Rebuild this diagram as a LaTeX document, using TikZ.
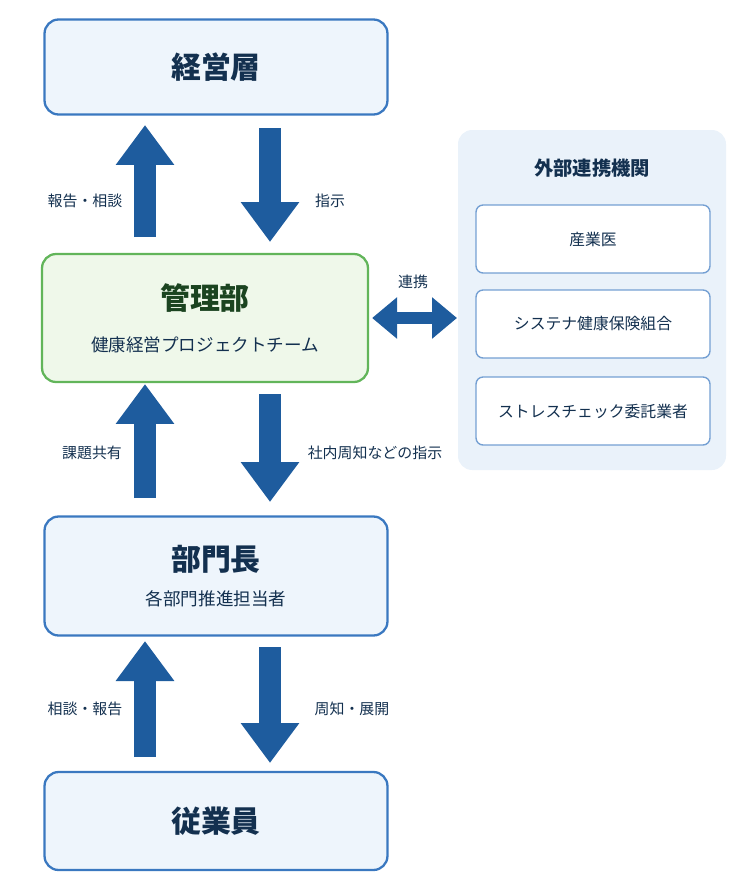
\documentclass[tikz,border=0pt]{standalone}
\usepackage{fontspec}
\setmainfont{Noto Sans CJK JP}
\usetikzlibrary{arrows.meta,positioning}
\definecolor{boxline}{HTML}{3A78C0}
\definecolor{boxfill}{HTML}{EEF5FC}
\definecolor{grnline}{HTML}{62B55A}
\definecolor{grnfill}{HTML}{EFF8EA}
\definecolor{navy}{HTML}{13304F}
\definecolor{grntext}{HTML}{1B4420}
\definecolor{arr}{HTML}{1E5C9E}
\definecolor{panel}{HTML}{EAF2FA}
\tikzset{
  box/.style={draw=boxline, fill=boxfill, line width=1.3pt, rounded corners=8pt, minimum width=6.86cm, align=center, text=navy},
  sub/.style={draw=boxline!70, fill=white, line width=0.8pt, rounded corners=4pt, minimum width=4.68cm, minimum height=1.36cm, text=navy, font=\fontsize{9}{11}\selectfont},
  blk/.style={arr, line width=0.44cm, -{Triangle[length=0.8cm,width=1.12cm]}},
  lbl/.style={text=navy, font=\fontsize{8.5}{10}\selectfont}
}
\begin{document}
\begin{tikzpicture}[x=0.02cm,y=-0.02cm]
  \useasboundingbox (0,0) rectangle (738,896);
  % boxes
  \node[box, minimum height=1.9cm, font=\bfseries\fontsize{17}{20}\selectfont] (top) at (216,67) {経営層};
  \node[box, draw=grnline, fill=grnfill, minimum width=6.52cm, minimum height=2.56cm, text=grntext] (mgr) at (205,318)
    {{\bfseries\fontsize{17}{20}\selectfont 管理部}\\[12pt]{\fontsize{10}{12}\selectfont\color{navy} 健康経営プロジェクトチーム}};
  \node[box, minimum height=2.38cm] (dept) at (216,576)
    {{\bfseries\fontsize{17}{20}\selectfont 部門長}\\[8pt]{\fontsize{10}{12}\selectfont 各部門推進担当者}};
  \node[box, minimum height=1.96cm, font=\bfseries\fontsize{17}{20}\selectfont] (emp) at (216,821) {従業員};
  % external panel
  \fill[panel, rounded corners=8pt] (458,130) rectangle (726,470);
  \node[text=navy, font=\bfseries\fontsize{11}{13}\selectfont] (ext) at (592,168) {外部連携機関};
  \node[sub] (doc) at (593,239) {産業医};
  \node[sub] (sys) at (593,324) {システナ健康保険組合};
  \node[sub] (str) at (593,411) {ストレスチェック委託業者};
  % arrows
  \draw[blk] (145,237) -- (145,125);
  \draw[blk] (270,128) -- (270,242);
  \draw[blk] (145,498) -- (145,384);
  \draw[blk] (270,394) -- (270,502);
  \draw[blk] (145,757) -- (145,641);
  \draw[blk] (270,647) -- (270,763);
  \draw[arr, line width=0.24cm, {Triangle[length=0.5cm,width=0.8cm]}-{Triangle[length=0.5cm,width=0.8cm]}] (mgr.east) ++(3,0) -- (457,318);
  % labels
  \node[lbl] at (85,201) {報告・相談};
  \node[lbl] at (330,201) {指示};
  \node[lbl] at (413,282) {連携};
  \node[lbl] at (92,453) {課題共有};
  \node[lbl] at (375,453) {社内周知などの指示};
  \node[lbl] at (85,709) {相談・報告};
  \node[lbl] at (352,709) {周知・展開};
\end{tikzpicture}
\end{document}
